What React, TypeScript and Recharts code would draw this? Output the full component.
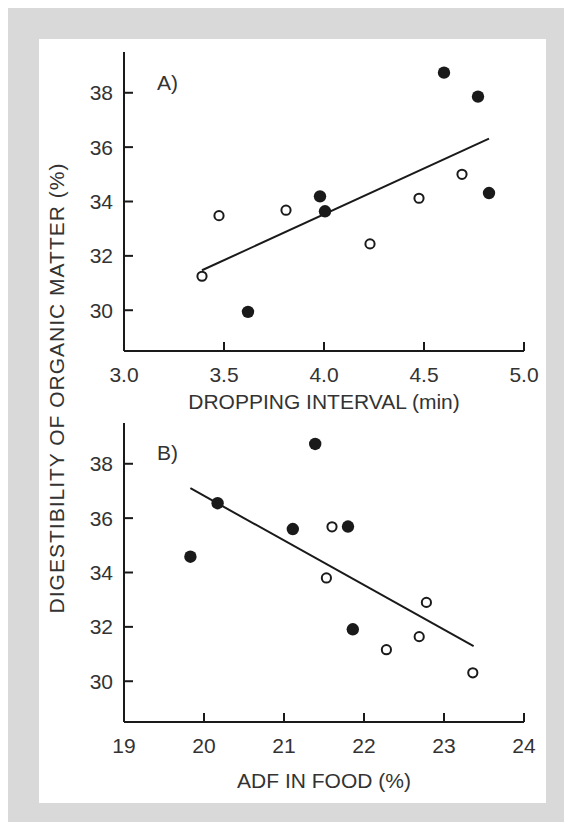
import React from "react";
import { ScatterChart, Scatter, XAxis, YAxis, ReferenceLine, Label } from "recharts";

// panel A: dropping interval (min) vs digestibility (%)
const aOpenX = [3.39, 3.475, 3.81, 4.23, 4.475, 4.69];
const aOpenY = [31.25, 33.48, 33.68, 32.44, 34.12, 35.0];
const aFilledX = [3.62, 3.98, 4.005, 4.6, 4.77, 4.825];
const aFilledY = [29.94, 34.19, 33.64, 38.74, 37.86, 34.31];
const aFitX = [3.39, 4.825];
const aFitY = [31.47, 36.31];
const aXTicks = [3.0, 3.5, 4.0, 4.5, 5.0];

// panel B: ADF in food (%) vs digestibility (%)
const bOpenX = [21.6, 21.53, 22.28, 22.69, 22.78, 23.36];
const bOpenY = [35.68, 33.8, 31.16, 31.64, 32.9, 30.31];
const bFilledX = [19.83, 20.17, 21.11, 21.39, 21.8, 21.86];
const bFilledY = [34.58, 36.55, 35.6, 38.73, 35.69, 31.91];
const bFitX = [19.83, 23.37];
const bFitY = [37.1, 31.29];
const bXTicks = [19, 20, 21, 22, 23, 24];

const yTicks = [30, 32, 34, 36, 38];

const FONT = "'Liberation Sans', Arial, sans-serif";
const INK = "#1a1a1a";
const TEXT = "#333";

const zip = (xs: number[], ys: number[]) => xs.map((x, i) => ({ x, y: ys[i] }));

const OpenDot = (p: any) => (
  <circle cx={p.cx} cy={p.cy} r={4.6} fill="#fff" stroke={INK} strokeWidth={2} />
);
const FilledDot = (p: any) => <circle cx={p.cx} cy={p.cy} r={6.2} fill={INK} />;

const YTick = (p: any) => (
  <g>
    <line x1={p.x} y1={p.y} x2={p.x + 9} y2={p.y} stroke={INK} strokeWidth={2} />
    <text x={p.x - 11} y={p.y + 7.5} textAnchor="end" fontSize={21} fill={TEXT} fontFamily={FONT}>
      {p.payload.value}
    </text>
  </g>
);

const makeXTick = (digits: number) => (p: any) => (
  <g>
    <line x1={p.x} y1={p.y} x2={p.x} y2={p.y - 9} stroke={INK} strokeWidth={2} />
    <text x={p.x} y={p.y + 31} textAnchor="middle" fontSize={21} fill={TEXT} fontFamily={FONT}>
      {Number(p.payload.value).toFixed(digits)}
    </text>
  </g>
);

function Panel(props: {
  top: number;
  marginTop: number;
  axisHeight: number;
  titleOffset: number;
  xDomain: [number, number];
  xTicks: number[];
  digits: number;
  title: string;
  open: { x: number; y: number }[];
  filled: { x: number; y: number }[];
  fit: { x: number; y: number }[];
}) {
  return (
    <div style={{ position: "absolute", left: 0, top: props.top }}>
      <ScatterChart
        width={572}
        height={props.marginTop + 299 + props.axisHeight}
        margin={{ top: props.marginTop, left: 0, right: 48, bottom: 0 }}
      >
        <XAxis
          type="number"
          dataKey="x"
          domain={props.xDomain}
          ticks={props.xTicks}
          allowDataOverflow
          height={props.axisHeight}
          tickSize={0}
          tickMargin={0}
          tickLine={false}
          axisLine={{ stroke: INK, strokeWidth: 2 }}
          tick={makeXTick(props.digits)}
          interval={0}
        >
          <Label
            value={props.title}
            position="insideTop"
            offset={props.titleOffset}
            fontSize={21}
            fill={TEXT}
            fontFamily={FONT}
          />
        </XAxis>
        <YAxis
          type="number"
          dataKey="y"
          domain={[28.5, 39.5]}
          ticks={yTicks}
          allowDataOverflow
          width={124}
          tickSize={0}
          tickMargin={0}
          tickLine={false}
          axisLine={{ stroke: INK, strokeWidth: 2 }}
          tick={YTick}
          interval={0}
        />
        <ReferenceLine segment={props.fit} stroke={INK} strokeWidth={2} />
        <Scatter data={props.open} shape={OpenDot} isAnimationActive={false} />
        <Scatter data={props.filled} shape={FilledDot} isAnimationActive={false} />
      </ScatterChart>
    </div>
  );
}

export default function App() {
  return (
    <div style={{ position: "relative", margin: -8, width: 572, height: 830, background: "#fff", overflow: "hidden" }}>
      <div style={{ position: "absolute", left: 7, top: 7, width: 565, height: 823, background: "#d9d9d9" }} />
      <div style={{ position: "absolute", left: 39, top: 39, width: 507, height: 764, background: "#fff" }} />
      <Panel
        top={0}
        marginTop={52}
        axisHeight={64}
        titleOffset={43}
        xDomain={[3, 5]}
        xTicks={aXTicks}
        digits={1}
        title="DROPPING INTERVAL (min)"
        open={zip(aOpenX, aOpenY)}
        filled={zip(aFilledX, aFilledY)}
        fit={zip(aFitX, aFitY)}
      />
      <Panel
        top={415}
        marginTop={8}
        axisHeight={80}
        titleOffset={51}
        xDomain={[19, 24]}
        xTicks={bXTicks}
        digits={0}
        title="ADF IN FOOD (%)"
        open={zip(bOpenX, bOpenY)}
        filled={zip(bFilledX, bFilledY)}
        fit={zip(bFitX, bFitY)}
      />
      <svg width={572} height={830} style={{ position: "absolute", left: 0, top: 0, pointerEvents: "none" }}>
        <text x={157} y={90} fontSize={21} fill={TEXT} fontFamily={FONT}>A)</text>
        <text x={157} y={460} fontSize={21} fill={TEXT} fontFamily={FONT}>B)</text>
        <text
          transform="translate(64 388) rotate(-90)"
          textAnchor="middle"
          fontSize={21}
          letterSpacing={1}
          fill={TEXT}
          fontFamily={FONT}
        >
          DIGESTIBILITY OF ORGANIC MATTER (%)
        </text>
      </svg>
    </div>
  );
}
